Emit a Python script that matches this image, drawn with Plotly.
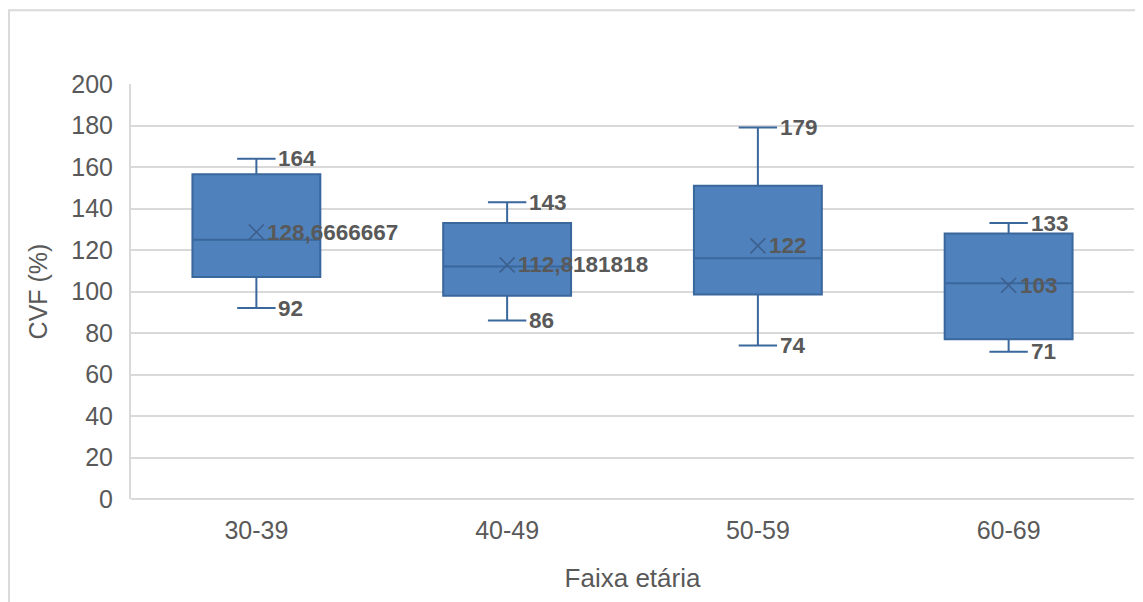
import plotly.graph_objects as go

categories = ["30-39", "40-49", "50-59", "60-69"]
minimum = [92, 86, 74, 71]
q1 = [107, 98, 98.5, 77]
median = [125, 112, 116, 104]
q3 = [156.5, 133, 151, 128]
maximum = [164, 143, 179, 133]
mean = [128.6666667, 112.8181818, 122, 103]
mean_labels = ["128,6666667", "112,8181818", "122", "103"]
yticks = [0, 20, 40, 60, 80, 100, 120, 140, 160, 180, 200]

FONT = "Liberation Sans, Arial, sans-serif"
TXT = "#595959"
GRID = "#d9d9d9"

fig = go.Figure()
fig.add_trace(go.Box(
    x=categories, q1=q1, median=median, q3=q3,
    lowerfence=minimum, upperfence=maximum,
    fillcolor="#4f81bd", line=dict(color="#3a679c", width=2),
    whiskerwidth=0.3, boxpoints=False, showlegend=False, hoverinfo="skip",
))
fig.add_trace(go.Scatter(
    x=categories, y=mean, mode="markers",
    marker=dict(symbol="x-thin", size=15, line=dict(color="#3d5f8c", width=1.6)),
    showlegend=False, hoverinfo="skip",
))

ann = []
for c, lo, hi, m, ml in zip(categories, minimum, maximum, mean, mean_labels):
    for v, txt, sh in [(hi, str(hi), 20), (lo, str(lo), 20), (m, ml, 9)]:
        ann.append(dict(x=c, y=v, text=f"<b>{txt}</b>", showarrow=False,
                        xanchor="left", yanchor="middle", xshift=sh,
                        font=dict(family=FONT, size=22.5, color=TXT)))

# plot area (in page pixels): left 131, right 1134, top 84, bottom 499; page has 8px body offset
fig.update_layout(
    width=1143, height=602,
    margin=dict(l=123, r=17, t=76, b=111),
    paper_bgcolor="white", plot_bgcolor="white",
    boxgap=0.49, boxgroupgap=0,
    annotations=ann,
    shapes=[dict(type="rect", xref="paper", yref="paper",
                 x0=-0.1216, x1=1.05, y0=-0.3, y1=1.1775,
                 line=dict(color=GRID, width=2), layer="below")],
    xaxis=dict(
        type="category", categoryorder="array", categoryarray=categories,
        showgrid=False, showline=False, zeroline=False, ticks="",
        tickfont=dict(family=FONT, size=25, color=TXT),
        ticklabelstandoff=14,
        title=dict(text="Faixa etária", font=dict(family=FONT, size=26, color=TXT), standoff=25),
    ),
    yaxis=dict(
        range=[0, 200], tickvals=yticks,
        showgrid=True, gridcolor=GRID, gridwidth=2,
        showline=True, linecolor=GRID, linewidth=2,
        zeroline=True, zerolinecolor=GRID, zerolinewidth=2,
        ticks="", tickfont=dict(family=FONT, size=25, color=TXT),
        ticklabelstandoff=11,
        title=dict(text="CVF (%)", font=dict(family=FONT, size=25, color=TXT), standoff=17),
    ),
)

fig.write_html("out.html")
